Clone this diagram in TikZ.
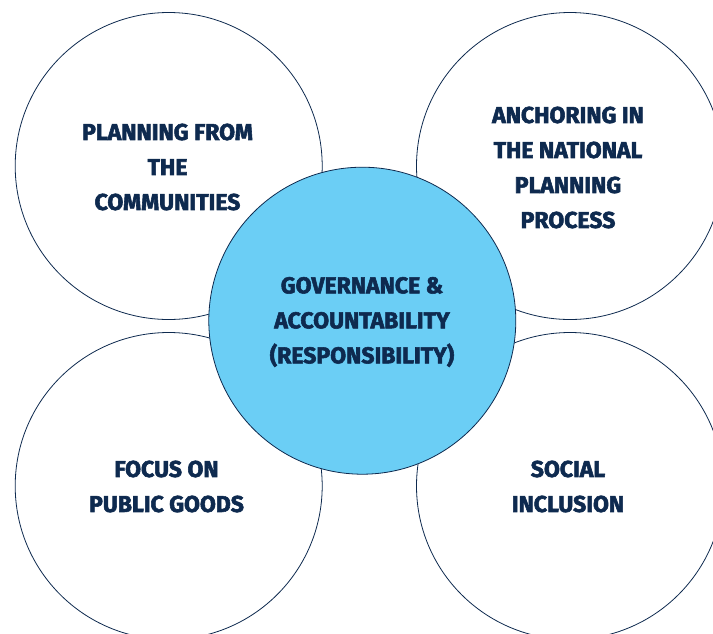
\documentclass[tikz,border=0pt]{standalone}
\usepackage{fontspec}
\setmainfont{Fira Sans}[BoldFeatures={FakeBold=2.4}]
\definecolor{navy}{HTML}{0E2A4F}
\definecolor{skyfill}{HTML}{6BCEF5}
\begin{document}
\begin{tikzpicture}[x=1pt,y=-1pt,
  ring/.style={circle, draw=navy, line width=0.8pt, minimum size=307pt, inner sep=0pt},
  outer/.style={ring, fill=white},
  hub/.style={ring, fill=skyfill},
  lbl/.style={text=navy, font=\bfseries\fontsize{23}{35}\selectfont, align=center}]
\useasboundingbox (0,0) rectangle (713,633);
\clip (0,0) rectangle (713,633);
\node[outer] (tl) at (168.7,166) {};
\node[outer] (tr) at (570,166) {};
\node[outer] (bl) at (168.7,486) {};
\node[outer] (br) at (570,486) {};
\node[hub] (c) at (362.3,320.7) {};
\node[lbl] (tlt) at (167.5,167) {PLANNING FROM\\THE\\COMMUNITIES};
\node[lbl] (trt) at (568,167.5) {ANCHORING IN\\THE NATIONAL\\PLANNING\\PROCESS};
\node[lbl] (ct) at (362,322) {GOVERNANCE \&\\ACCOUNTABILITY\\(RESPONSIBILITY)};
\node[lbl] (blt) at (166.5,486.5) {FOCUS ON\\PUBLIC GOODS};
\node[lbl] (brt) at (568,486.5) {SOCIAL\\INCLUSION};
\end{tikzpicture}
\end{document}
